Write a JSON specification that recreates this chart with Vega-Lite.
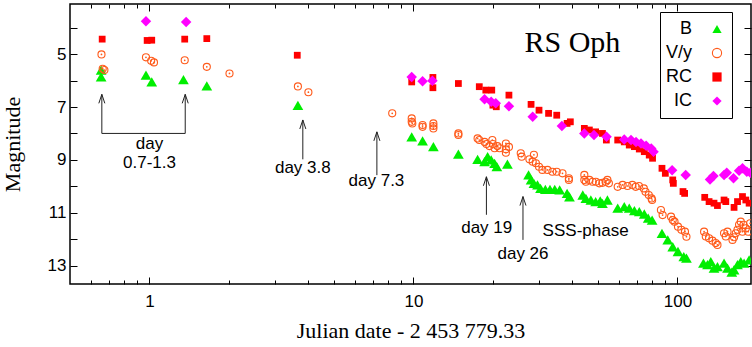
{
  "$schema": "https://vega.github.io/schema/vega-lite/v6.json",
  "width": 681,
  "height": 280,
  "autosize": "none",
  "padding": {"left": 70, "top": 4, "right": 1, "bottom": 63},
  "background": "white",
  "config": {
    "view": {"stroke": "black", "strokeWidth": 1.5},
    "axis": {"grid": false, "domain": false, "tickColor": "black", "tickWidth": 1, "labelColor": "black", "titleColor": "black"},
    "legend": {"labelFont": "Liberation Sans", "labelFontSize": 18, "labelColor": "black", "strokeColor": "black", "fillColor": "white", "padding": 8, "rowPadding": 6, "symbolStrokeWidth": 1.1,
               "labelAlign": "right", "labelOffset": -34, "symbolSize": 85, "titleOrient": "left", "titlePadding": 40, "titleFontSize": 13}
  },
  "datasets": {
    "pts": [
      {"t":0.656,"m":5.60,"b":"B"},{"t":0.656,"m":5.86,"b":"B"},{"t":0.97,"m":5.79,"b":"B"},{"t":1.02,"m":6.05,"b":"B"},{"t":1.345,"m":5.96,"b":"B"},{"t":1.649,"m":6.20,"b":"B"},{"t":3.65,"m":6.94,"b":"B"},
      {"t":9.85,"m":8.13,"b":"B"},{"t":10.83,"m":8.28,"b":"B"},{"t":11.9,"m":8.50,"b":"B"},{"t":14.8,"m":8.78,"b":"B"},{"t":17.5,"m":8.98,"b":"B"},{"t":18.6,"m":9.07,"b":"B"},{"t":19.1,"m":8.88,"b":"B"},{"t":19.7,"m":9.00,"b":"B"},{"t":20.3,"m":9.13,"b":"B"},{"t":20.7,"m":9.26,"b":"B"},{"t":22.7,"m":9.16,"b":"B"},
      {"t":27.3,"m":9.57,"b":"B"},{"t":27.9,"m":9.76,"b":"B"},{"t":28.6,"m":9.89,"b":"B"},{"t":29.5,"m":9.95,"b":"B"},{"t":30.3,"m":10.08,"b":"B"},{"t":31.6,"m":10.12,"b":"B"},{"t":32.9,"m":10.12,"b":"B"},{"t":34.3,"m":10.12,"b":"B"},{"t":35.8,"m":10.14,"b":"B"},{"t":38.2,"m":10.27,"b":"B"},{"t":39.0,"m":10.40,"b":"B"},
      {"t":43.8,"m":10.33,"b":"B"},{"t":45.0,"m":10.46,"b":"B"},{"t":47.0,"m":10.52,"b":"B"},{"t":49.0,"m":10.58,"b":"B"},{"t":51.0,"m":10.55,"b":"B"},{"t":52.0,"m":10.65,"b":"B"},{"t":54.3,"m":10.52,"b":"B"},
      {"t":59.4,"m":10.83,"b":"B"},{"t":62.9,"m":10.77,"b":"B"},{"t":65.7,"m":10.83,"b":"B"},{"t":68.7,"m":10.92,"b":"B"},{"t":71.7,"m":10.96,"b":"B"},{"t":74.9,"m":11.05,"b":"B"},{"t":77.5,"m":11.21,"b":"B"},{"t":80.2,"m":11.28,"b":"B"},
      {"t":87.4,"m":11.78,"b":"B"},{"t":91.9,"m":12.03,"b":"B"},{"t":96.0,"m":12.29,"b":"B"},{"t":100.5,"m":12.47,"b":"B"},{"t":105.7,"m":12.66,"b":"B"},{"t":108.2,"m":12.72,"b":"B"},
      {"t":125.5,"m":12.91,"b":"B"},{"t":130,"m":12.97,"b":"B"},{"t":133.8,"m":12.85,"b":"B"},{"t":137.6,"m":13.10,"b":"B"},{"t":141.8,"m":13.04,"b":"B"},{"t":150.2,"m":12.91,"b":"B"},{"t":154.8,"m":13.10,"b":"B"},{"t":160.7,"m":13.25,"b":"B"},{"t":163.9,"m":13.16,"b":"B"},{"t":168.9,"m":12.97,"b":"B"},{"t":173.8,"m":12.85,"b":"B"},{"t":178.9,"m":12.91,"b":"B"},{"t":186.9,"m":12.79,"b":"B"},
      {"t":0.658,"m":5.01,"b":"V/y"},{"t":0.665,"m":5.55,"b":"V/y"},{"t":0.675,"m":5.60,"b":"V/y"},{"t":0.97,"m":5.12,"b":"V/y"},{"t":1.015,"m":5.25,"b":"V/y"},{"t":1.04,"m":5.31,"b":"V/y"},{"t":1.36,"m":5.23,"b":"V/y"},{"t":1.649,"m":5.48,"b":"V/y"},{"t":2.01,"m":5.73,"b":"V/y"},{"t":3.65,"m":6.22,"b":"V/y"},{"t":4.0,"m":6.44,"b":"V/y"},
      {"t":8.31,"m":7.24,"b":"V/y"},{"t":9.85,"m":7.43,"b":"V/y"},{"t":9.85,"m":7.56,"b":"V/y"},{"t":9.9,"m":7.62,"b":"V/y"},{"t":10.83,"m":7.68,"b":"V/y"},{"t":10.83,"m":7.75,"b":"V/y"},{"t":11.9,"m":7.62,"b":"V/y"},{"t":11.9,"m":7.72,"b":"V/y"},{"t":11.9,"m":7.81,"b":"V/y"},{"t":14.8,"m":8.00,"b":"V/y"},{"t":14.8,"m":8.06,"b":"V/y"},
      {"t":17.5,"m":8.19,"b":"V/y"},{"t":17.76,"m":8.25,"b":"V/y"},{"t":18.6,"m":8.32,"b":"V/y"},{"t":18.9,"m":8.40,"b":"V/y"},{"t":19.4,"m":8.48,"b":"V/y"},{"t":19.9,"m":8.25,"b":"V/y"},{"t":20.0,"m":8.40,"b":"V/y"},{"t":20.3,"m":8.56,"b":"V/y"},{"t":20.8,"m":8.48,"b":"V/y"},{"t":21.2,"m":8.56,"b":"V/y"},{"t":22.4,"m":8.38,"b":"V/y"},{"t":22.4,"m":8.60,"b":"V/y"},{"t":22.4,"m":8.73,"b":"V/y"},{"t":23.0,"m":8.51,"b":"V/y"},
      {"t":25.5,"m":8.75,"b":"V/y"},{"t":25.7,"m":8.88,"b":"V/y"},{"t":27.5,"m":8.98,"b":"V/y"},{"t":28.3,"m":9.07,"b":"V/y"},{"t":28.6,"m":8.81,"b":"V/y"},{"t":29.1,"m":9.13,"b":"V/y"},{"t":29.9,"m":9.26,"b":"V/y"},{"t":30.8,"m":9.38,"b":"V/y"},{"t":32.2,"m":9.38,"b":"V/y"},{"t":33.6,"m":9.45,"b":"V/y"},{"t":34.9,"m":9.45,"b":"V/y"},{"t":36.7,"m":9.51,"b":"V/y"},{"t":38.8,"m":9.70,"b":"V/y"},{"t":38.8,"m":9.76,"b":"V/y"},
      {"t":44.4,"m":9.57,"b":"V/y"},{"t":44.4,"m":9.76,"b":"V/y"},{"t":45.0,"m":9.83,"b":"V/y"},{"t":46.4,"m":9.76,"b":"V/y"},{"t":47.7,"m":9.83,"b":"V/y"},{"t":49.1,"m":9.83,"b":"V/y"},{"t":50.6,"m":9.89,"b":"V/y"},{"t":52.0,"m":9.87,"b":"V/y"},{"t":53.5,"m":9.83,"b":"V/y"},{"t":54.3,"m":9.76,"b":"V/y"},{"t":55.0,"m":9.89,"b":"V/y"},
      {"t":59.4,"m":10.02,"b":"V/y"},{"t":62.0,"m":9.95,"b":"V/y"},{"t":64.7,"m":9.99,"b":"V/y"},{"t":67.5,"m":9.95,"b":"V/y"},{"t":69.5,"m":10.02,"b":"V/y"},{"t":71.5,"m":9.99,"b":"V/y"},{"t":74.6,"m":10.08,"b":"V/y"},{"t":75.7,"m":10.21,"b":"V/y"},{"t":77.9,"m":10.33,"b":"V/y"},{"t":79.8,"m":10.46,"b":"V/y"},{"t":80.2,"m":10.52,"b":"V/y"},
      {"t":86.6,"m":10.90,"b":"V/y"},{"t":87.9,"m":11.09,"b":"V/y"},{"t":94.6,"m":11.15,"b":"V/y"},{"t":96.0,"m":11.28,"b":"V/y"},{"t":97.5,"m":11.34,"b":"V/y"},{"t":100.5,"m":11.53,"b":"V/y"},{"t":103.5,"m":11.65,"b":"V/y"},{"t":106.8,"m":11.72,"b":"V/y"},{"t":108.2,"m":11.91,"b":"V/y"},
      {"t":126.2,"m":11.72,"b":"V/y"},{"t":128.1,"m":11.90,"b":"V/y"},{"t":131.8,"m":11.97,"b":"V/y"},{"t":135.8,"m":12.06,"b":"V/y"},{"t":139.7,"m":12.15,"b":"V/y"},{"t":141.8,"m":12.22,"b":"V/y"},{"t":150.2,"m":11.78,"b":"V/y"},{"t":152.5,"m":11.90,"b":"V/y"},{"t":154.8,"m":11.72,"b":"V/y"},{"t":161.7,"m":12.03,"b":"V/y"},{"t":163.9,"m":11.93,"b":"V/y"},{"t":166.4,"m":11.78,"b":"V/y"},{"t":168.9,"m":11.65,"b":"V/y"},{"t":171.2,"m":11.46,"b":"V/y"},{"t":173.8,"m":11.34,"b":"V/y"},{"t":176.4,"m":11.72,"b":"V/y"},{"t":178.0,"m":11.46,"b":"V/y"},{"t":181.6,"m":11.59,"b":"V/y"},{"t":185.3,"m":11.72,"b":"V/y"},{"t":188.5,"m":11.40,"b":"V/y"},
      {"t":0.662,"m":4.43,"b":"RC"},{"t":0.98,"m":4.48,"b":"RC"},{"t":1.02,"m":4.47,"b":"RC"},{"t":1.36,"m":4.43,"b":"RC"},{"t":1.649,"m":4.41,"b":"RC"},{"t":3.63,"m":5.04,"b":"RC"},
      {"t":9.85,"m":6.05,"b":"RC"},{"t":11.85,"m":5.88,"b":"RC"},{"t":11.85,"m":6.27,"b":"RC"},{"t":14.8,"m":6.11,"b":"RC"},{"t":17.76,"m":6.23,"b":"RC"},{"t":18.8,"m":6.36,"b":"RC"},{"t":19.8,"m":6.36,"b":"RC"},{"t":20.0,"m":6.93,"b":"RC"},{"t":20.6,"m":6.99,"b":"RC"},{"t":23.0,"m":6.55,"b":"RC"},
      {"t":27.9,"m":6.90,"b":"RC"},{"t":29.9,"m":7.12,"b":"RC"},{"t":32.5,"m":7.24,"b":"RC"},{"t":34.9,"m":7.31,"b":"RC"},{"t":38.2,"m":7.62,"b":"RC"},{"t":39.3,"m":7.56,"b":"RC"},
      {"t":44.4,"m":7.81,"b":"RC"},{"t":46.4,"m":7.87,"b":"RC"},{"t":49.0,"m":7.94,"b":"RC"},{"t":52.0,"m":8.00,"b":"RC"},{"t":53.8,"m":8.25,"b":"RC"},
      {"t":59.4,"m":8.25,"b":"RC"},{"t":62.9,"m":8.32,"b":"RC"},{"t":65.7,"m":8.44,"b":"RC"},{"t":68.7,"m":8.50,"b":"RC"},{"t":71.7,"m":8.59,"b":"RC"},{"t":74.9,"m":8.69,"b":"RC"},{"t":78.2,"m":8.82,"b":"RC"},{"t":80.5,"m":8.94,"b":"RC"},
      {"t":87.4,"m":9.32,"b":"RC"},{"t":90.0,"m":9.51,"b":"RC"},{"t":96.0,"m":9.76,"b":"RC"},{"t":96.5,"m":9.89,"b":"RC"},{"t":105.0,"m":10.20,"b":"RC"},{"t":106.5,"m":10.27,"b":"RC"},
      {"t":126.9,"m":10.42,"b":"RC"},{"t":131.8,"m":10.58,"b":"RC"},{"t":137.6,"m":10.64,"b":"RC"},{"t":141.8,"m":10.73,"b":"RC"},{"t":150.2,"m":10.52,"b":"RC"},{"t":152.5,"m":10.58,"b":"RC"},{"t":163.9,"m":10.80,"b":"RC"},{"t":168.9,"m":10.58,"b":"RC"},{"t":176.4,"m":10.39,"b":"RC"},{"t":181.6,"m":10.52,"b":"RC"},{"t":186.9,"m":10.64,"b":"RC"},
      {"t":0.97,"m":3.75,"b":"IC"},{"t":1.377,"m":3.78,"b":"IC"},
      {"t":9.85,"m":5.86,"b":"IC"},{"t":10.83,"m":6.02,"b":"IC"},{"t":11.8,"m":6.01,"b":"IC"},{"t":18.6,"m":6.71,"b":"IC"},{"t":19.7,"m":6.80,"b":"IC"},{"t":20.5,"m":6.86,"b":"IC"},{"t":23.0,"m":6.97,"b":"IC"},{"t":28.3,"m":7.37,"b":"IC"},{"t":36.5,"m":7.72,"b":"IC"},
      {"t":44.4,"m":8.00,"b":"IC"},{"t":48.3,"m":8.06,"b":"IC"},{"t":53.9,"m":8.13,"b":"IC"},{"t":62.9,"m":8.23,"b":"IC"},{"t":66.7,"m":8.25,"b":"IC"},{"t":69.7,"m":8.32,"b":"IC"},{"t":72.8,"m":8.38,"b":"IC"},{"t":76.1,"m":8.47,"b":"IC"},{"t":79.6,"m":8.57,"b":"IC"},{"t":81.2,"m":8.69,"b":"IC"},
      {"t":95.5,"m":9.39,"b":"IC"},{"t":107.5,"m":9.57,"b":"IC"},
      {"t":132.9,"m":9.74,"b":"IC"},{"t":136.9,"m":9.61,"b":"IC"},{"t":150.2,"m":9.57,"b":"IC"},{"t":153.8,"m":9.49,"b":"IC"},{"t":163.1,"m":9.70,"b":"IC"},{"t":171.2,"m":9.41,"b":"IC"},{"t":176.4,"m":9.32,"b":"IC"},{"t":183.2,"m":9.45,"b":"IC"},{"t":189.0,"m":9.49,"b":"IC"}
    ],
    "rules": [
      {"x1":0.66,"y1":6.52,"x2":0.66,"y2":8.0},
      {"x1":0.66,"y1":8.0,"x2":1.366,"y2":8.0},
      {"x1":1.366,"y1":8.0,"x2":1.366,"y2":6.52},
      {"x1":3.81,"y1":7.49,"x2":3.81,"y2":8.98},
      {"x1":7.27,"y1":7.94,"x2":7.27,"y2":9.58},
      {"x1":18.9,"y1":9.64,"x2":18.9,"y2":11.08},
      {"x1":26.0,"y1":10.39,"x2":26.0,"y2":12.03}
    ],
    "heads": [
      {"t":0.66,"m":6.52},{"t":1.366,"m":6.52},{"t":3.81,"m":7.49},{"t":7.27,"m":7.94},{"t":18.9,"m":9.64},{"t":26.0,"m":10.39}
    ],
    "ann": [
      {"t":1.0,"m":8.59,"s":"day"},
      {"t":1.0,"m":9.30,"s":"0.7-1.3"},
      {"t":3.81,"m":9.51,"s":"day 3.8"},
      {"t":7.24,"m":10.0,"s":"day 7.3"},
      {"t":18.95,"m":11.78,"s":"day 19"},
      {"t":26.0,"m":12.77,"s":"day 26"},
      {"t":44.9,"m":11.88,"s":"SSS-phase"}
    ]
  },
  "resolve": {"axis": {"x": "independent", "y": "independent"}},
  "layer": [
    {
      "data": {"name": "heads"},
      "mark": {"type": "point", "opacity": 0},
      "encoding": {
        "x": {"field": "t", "type": "quantitative", "scale": {"type": "log", "domain": [0.5, 190], "nice": false},
              "axis": {"orient": "bottom", "values": [1, 10, 100], "labels": false, "tickSize": -7, "title": null}},
        "y": {"field": "m", "type": "quantitative", "scale": {"domain": [3.1, 13.7], "reverse": true, "nice": false, "zero": false},
              "axis": {"orient": "left", "values": [4, 5, 6, 7, 8, 9, 10, 11, 12, 13], "labels": false, "tickSize": -7, "title": null}}
      }
    },
    {
      "data": {"name": "heads"},
      "mark": {"type": "point", "opacity": 0},
      "encoding": {
        "x": {"field": "t", "type": "quantitative", "scale": {"type": "log", "domain": [0.5, 190], "nice": false},
              "axis": {"orient": "bottom", "values": [0.6, 0.7, 0.8, 0.9, 2, 3, 4, 5, 6, 7, 8, 9, 20, 30, 40, 50, 60, 70, 80, 90], "labels": false, "tickSize": -4, "title": null}},
        "y": {"field": "m", "type": "quantitative", "scale": {"domain": [3.1, 13.7], "reverse": true, "nice": false, "zero": false},
              "axis": {"orient": "right", "values": [4, 5, 6, 7, 8, 9, 10, 11, 12, 13], "labels": false, "tickSize": -7, "title": null}}
      }
    },
    {
      "data": {"name": "heads"},
      "mark": {"type": "point", "opacity": 0},
      "encoding": {
        "x": {"field": "t", "type": "quantitative", "scale": {"type": "log", "domain": [0.5, 190], "nice": false},
              "axis": {"orient": "top", "values": [1, 10, 100], "labels": false, "tickSize": -7, "title": null}},
        "y": {"field": "m", "type": "quantitative", "scale": {"domain": [3.1, 13.7], "reverse": true, "nice": false, "zero": false}, "axis": null}
      }
    },
    {
      "data": {"name": "heads"},
      "mark": {"type": "point", "opacity": 0},
      "encoding": {
        "x": {"field": "t", "type": "quantitative", "scale": {"type": "log", "domain": [0.5, 190], "nice": false},
              "axis": {"orient": "top", "values": [0.6, 0.7, 0.8, 0.9, 2, 3, 4, 5, 6, 7, 8, 9, 20, 30, 40, 50, 60, 70, 80, 90], "labels": false, "tickSize": -4, "title": null}},
        "y": {"field": "m", "type": "quantitative", "scale": {"domain": [3.1, 13.7], "reverse": true, "nice": false, "zero": false}, "axis": null}
      }
    },
    {
      "data": {"name": "rules"},
      "mark": {"type": "rule", "color": "#222222", "strokeWidth": 1},
      "encoding": {
        "x": {"field": "x1", "type": "quantitative", "scale": {"type": "log", "domain": [0.5, 190], "nice": false}, "axis": null},
        "x2": {"field": "x2"},
        "y": {"field": "y1", "type": "quantitative", "scale": {"domain": [3.1, 13.7], "reverse": true, "nice": false, "zero": false}, "axis": null},
        "y2": {"field": "y2"}
      }
    },
    {
      "data": {"name": "heads"},
      "mark": {"type": "point", "shape": "M-0.67,2L0,0L0.67,2", "size": 81, "filled": false, "stroke": "#222222", "strokeWidth": 1, "opacity": 1},
      "encoding": {
        "x": {"field": "t", "type": "quantitative", "scale": {"type": "log", "domain": [0.5, 190], "nice": false}, "axis": null},
        "y": {"field": "m", "type": "quantitative", "scale": {"domain": [3.1, 13.7], "reverse": true, "nice": false, "zero": false}, "axis": null}
      }
    },
    {
      "data": {"name": "ann"},
      "mark": {"type": "text", "font": "Liberation Sans", "fontSize": 17, "align": "center", "baseline": "alphabetic", "color": "black"},
      "encoding": {
        "x": {"field": "t", "type": "quantitative", "scale": {"type": "log", "domain": [0.5, 190], "nice": false}, "axis": null},
        "y": {"field": "m", "type": "quantitative", "scale": {"domain": [3.1, 13.7], "reverse": true, "nice": false, "zero": false}, "axis": null},
        "text": {"field": "s"}
      }
    },
    {
      "data": {"values": [{"t": 40, "m": 4.92, "s": "RS Oph"}]},
      "mark": {"type": "text", "font": "Liberation Serif", "fontSize": 30, "align": "center", "baseline": "alphabetic", "color": "black"},
      "encoding": {
        "x": {"field": "t", "type": "quantitative", "scale": {"type": "log", "domain": [0.5, 190], "nice": false}, "axis": null},
        "y": {"field": "m", "type": "quantitative", "scale": {"domain": [3.1, 13.7], "reverse": true, "nice": false, "zero": false}, "axis": null},
        "text": {"field": "s"}
      }
    },
    {
      "data": {"name": "pts"},
      "mark": {"type": "point", "clip": true, "opacity": 1, "strokeWidth": 1.1},
      "encoding": {
        "x": {"field": "t", "type": "quantitative", "scale": {"type": "log", "domain": [0.5, 190], "nice": false},
              "axis": {"orient": "bottom", "values": [1, 10, 100], "format": "d", "ticks": false, "labelFont": "Liberation Sans", "labelFontSize": 17, "labelPadding": 9,
                       "title": "Julian date - 2 453 779.33", "titleFont": "Liberation Serif", "titleFontSize": 22, "titleFontWeight": "normal", "titlePadding": 11}},
        "y": {"field": "m", "type": "quantitative", "scale": {"domain": [3.1, 13.7], "reverse": true, "nice": false, "zero": false},
              "axis": {"orient": "left", "values": [5, 7, 9, 11, 13], "format": "d", "ticks": false, "labelFont": "Liberation Sans", "labelFontSize": 17, "labelPadding": 4,
                       "title": "Magnitude", "titleFont": "Liberation Serif", "titleFontSize": 22, "titleFontWeight": "normal", "titlePadding": 23}},
        "fill": {"field": "b", "type": "nominal", "scale": {"domain": ["B", "V/y", "RC", "IC"], "range": ["#00ee00", "transparent", "#ff0000", "#ff00ff"]},
                 "legend": {"title": " ", "orient": "none", "legendX": 590, "legendY": 8}},
        "stroke": {"field": "b", "type": "nominal", "scale": {"domain": ["B", "V/y", "RC", "IC"], "range": ["transparent", "#ff5a1a", "transparent", "transparent"]},
                   "legend": {"title": " ", "orient": "none", "legendX": 590, "legendY": 8}},
        "shape": {"field": "b", "type": "nominal", "scale": {"domain": ["B", "V/y", "RC", "IC"], "range": ["triangle-up", "circle", "square", "diamond"]},
                  "legend": {"title": " ", "orient": "none", "legendX": 590, "legendY": 8}},
        "size": {"condition": [{"test": "datum.b === 'V/y'", "value": 50}, {"test": "datum.b === 'RC'", "value": 46}, {"test": "datum.b === 'IC'", "value": 110}], "value": 115}
      }
    },
    {
      "data": {"name": "pts"},
      "transform": [{"filter": "datum.b === 'V/y'"}],
      "mark": {"type": "point", "clip": true, "filled": true, "size": 3, "color": "#ff5a1a", "opacity": 1},
      "encoding": {
        "x": {"field": "t", "type": "quantitative", "scale": {"type": "log", "domain": [0.5, 190], "nice": false}, "axis": null},
        "y": {"field": "m", "type": "quantitative", "scale": {"domain": [3.1, 13.7], "reverse": true, "nice": false, "zero": false}, "axis": null}
      }
    }
  ]
}
